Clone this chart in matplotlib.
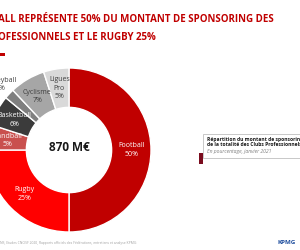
import numpy as np
import matplotlib.pyplot as plt
from matplotlib.patches import Rectangle

sports = ["Football", "Rugby", "Handball", "Basketball", "Volleyball", "Cyclisme", "Ligues\nPro"]
shares = [50, 25, 5, 6, 2, 7, 5]
colors = ["#C00000", "#FF0000", "#C9504E", "#3B3B3B", "#7F7F7F", "#A6A6A6", "#D9D9D9"]
label_colors = ["white", "white", "white", "white", "#404040", "#404040", "#404040"]
total = "870 M€"

plt.rcParams['font.family'] = ['Open Sans', 'DejaVu Sans']

fig = plt.figure(figsize=(3, 2.5), dpi=100)
fig.patch.set_facecolor("white")

# title, cropped on the left like the slide
fig.text(-0.005, 0.922, "ALL REPRÉSENTE 50% DU MONTANT DE SPONSORING DES",
         color="#C00000", fontsize=7.0, fontweight="bold", ha="left", va="center")
fig.text(-0.005, 0.852, "OFESSIONNELS ET LE RUGBY 25%",
         color="#C00000", fontsize=7.0, fontweight="bold", ha="left", va="center")
fig.add_artist(Rectangle((0, 0.777), 0.017, 0.012, transform=fig.transFigure,
                         color="#C00000", lw=0))

# donut
cx, cy, r = 69, 150, 82
ax = fig.add_axes([(cx - r) / 300, (250 - cy - r) / 250, 2 * r / 300, 2 * r / 250])
wedges, _ = ax.pie(shares, colors=colors, startangle=90, counterclock=False,
                   wedgeprops=dict(width=0.48, edgecolor="white", linewidth=1.0))
ax.set_xlim(-1, 1)
ax.set_ylim(-1, 1)
ax.set_aspect("auto")
ax.axis("off")

start = 90.0
for i, (name, v) in enumerate(zip(sports, shares)):
    if name == "Volleyball":
        continue
    mid = np.deg2rad(start - 360 * (sum(shares[:i]) + v / 2) / sum(shares))
    rr = 0.76
    ax.text(rr * np.cos(mid), rr * np.sin(mid), "%s\n%d%%" % (name, v),
            ha="center", va="center", fontsize=5, color=label_colors[i],
            linespacing=1.3)

# volleyball label with leader line
i = sports.index("Volleyball")
mid = np.deg2rad(start - 360 * (sum(shares[:i]) + shares[i] / 2) / sum(shares))
ax.annotate("Volleyball\n2%", xy=(0.98 * np.cos(mid), 0.98 * np.sin(mid)),
            xytext=(-0.84, 0.8), ha="center", va="center", fontsize=5,
            color="#404040", linespacing=1.3,
            arrowprops=dict(arrowstyle="-", color="#808080", lw=0.5))

ax.text(0, 0.03, total, ha="center", va="center", fontsize=8.5,
        fontweight="bold", color="#1a1a1a")

# note box
fig.add_artist(Rectangle((203 / 300, 1 - 158 / 250), 0.33, 24 / 250,
                         transform=fig.transFigure, facecolor="white",
                         edgecolor="#BFBFBF", lw=0.6))
fig.add_artist(Rectangle((199 / 300, 1 - 164 / 250), 4 / 300, 11 / 250,
                         transform=fig.transFigure, color="#7A0C1E", lw=0))
fig.text(207 / 300, 1 - 139 / 250, "Répartition du montant de sponsoring des",
         fontsize=3.6, fontweight="bold", color="#1a1a1a", va="center")
fig.text(207 / 300, 1 - 145 / 250, "de la totalité des Clubs Professionnels",
         fontsize=3.6, fontweight="bold", color="#1a1a1a", va="center")
fig.text(207 / 300, 1 - 151 / 250, "En pourcentage, janvier 2021",
         fontsize=3.6, style="italic", color="#7F7F7F", va="center")

# footer
fig.text(0.0, 1 - 243 / 250,
         "NS, Etudes CNOSF 2020, Rapports officiels des Fédérations, entretiens et analyse KPMG",
         fontsize=2.4, color="#A0A0A0", va="center")
fig.text(0.985, 1 - 242 / 250, "KPMG", fontsize=4.5, fontweight="bold",
         color="#1F4E9E", ha="right", va="center")

fig.savefig("out.png", dpi=100)
